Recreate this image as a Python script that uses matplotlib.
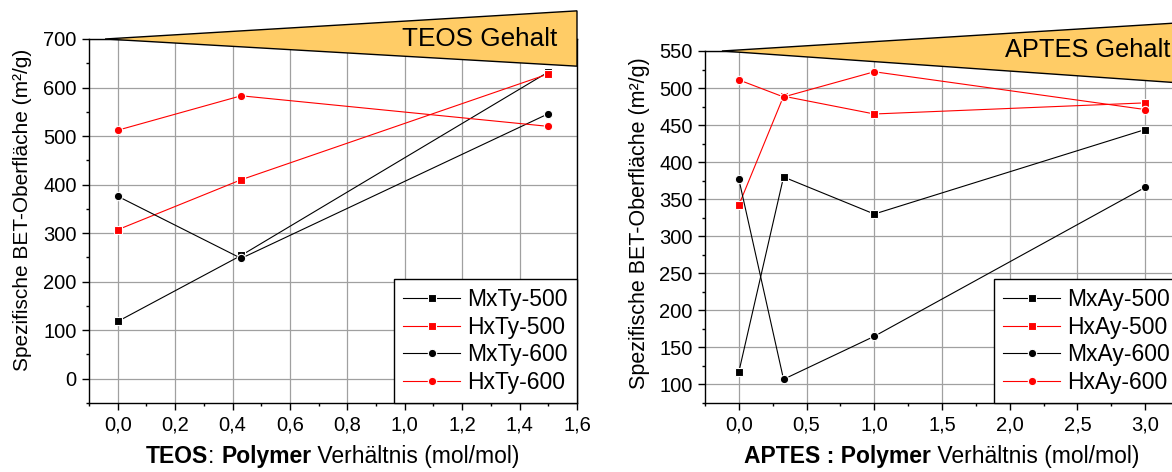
import matplotlib
matplotlib.use("Agg")
import matplotlib.pyplot as plt
from matplotlib.ticker import MultipleLocator, FuncFormatter
from matplotlib.patches import Polygon

plt.rcParams['font.family'] = ['Liberation Sans', 'DejaVu Sans']

# TEOS series
teos_x = [0.0, 0.43, 1.5]
mxty_500 = [118, 254, 632]
hxty_500 = [307, 410, 628]
mxty_600 = [376, 248, 546]
hxty_600 = [512, 583, 520]

# APTES series
aptes_x = [0.0, 0.33, 1.0, 3.0]
mxay_500 = [117, 380, 330, 444]
hxay_500 = [342, 489, 465, 480]
mxay_600 = [377, 107, 165, 366]
hxay_600 = [511, 488, 522, 471]

W, H = 1172, 472
fig = plt.figure(figsize=(W / 100, H / 100), dpi=100)


def px_axes(left, top, right, bottom):
    return fig.add_axes([left / W, 1 - bottom / H, (right - left) / W, (bottom - top) / H])


def comma(v, pos):
    return f"{v:.1f}".replace('.', ',')


def style(ax, xmaj, xmin, ymaj, ymin):
    ax.xaxis.set_major_locator(MultipleLocator(xmaj))
    ax.xaxis.set_minor_locator(MultipleLocator(xmin))
    ax.yaxis.set_major_locator(MultipleLocator(ymaj))
    ax.yaxis.set_minor_locator(MultipleLocator(ymin))
    ax.xaxis.set_major_formatter(FuncFormatter(comma))
    ax.grid(True, which='major', color='#a0a0a0', linewidth=0.9)
    ax.set_axisbelow(True)
    ax.tick_params(which='major', direction='out', length=5, width=1, labelsize=14.5, pad=4,
                   top=False, right=False)
    ax.tick_params(which='minor', direction='out', length=2.5, width=1, top=False, right=False)
    for s in ax.spines.values():
        s.set_linewidth(1.0)


def series(ax, x, ys, labels):
    styles = [('k', 's', 5.5), ('r', 's', 5.5), ('k', 'o', 6), ('r', 'o', 6)]
    for y, lab, (c, m, ms) in zip(ys, labels, styles):
        ax.plot(x, y, color=c, marker=m, ms=ms, lw=0.8, mec='white', mew=0.8,
                mfc=c, label=lab, zorder=3)


def wedge(ax, tip_x, y0, x1, ytop, ybot):
    # orange "content" wedge growing towards the right
    ax.add_patch(Polygon([[tip_x, y0], [x1, ytop], [x1, ybot]], closed=True,
                         facecolor='#ffcc66', edgecolor='black', lw=1.0,
                         clip_on=False, zorder=5))


def legend(ax):
    lg = ax.legend(loc='lower right', bbox_to_anchor=(1, 0), borderaxespad=0,
                   fontsize=16.5, frameon=True, fancybox=False, edgecolor='black',
                   framealpha=1, handlelength=2.5, handletextpad=0.3,
                   labelspacing=0.2, borderpad=0.4)
    lg.get_frame().set_linewidth(1.0)
    lg.set_zorder(6)


def mixed_label(xc, yb, parts, fs=16.5):
    # axis title made of bold and regular pieces, centred at pixel xc
    r = fig.canvas.get_renderer()
    texts = [fig.text(0, 1 - yb / H, s, fontsize=fs, fontweight=w, va='baseline')
             for s, w in parts]
    widths = [t.get_window_extent(r).width for t in texts]
    x = xc - sum(widths) / 2
    for t, w in zip(texts, widths):
        t.set_x(x / W)
        x += w


# left panel: TEOS
ax1 = px_axes(89, 39, 577, 403)
series(ax1, teos_x, [mxty_500, hxty_500, mxty_600, hxty_600],
       ['MxTy-500', 'HxTy-500', 'MxTy-600', 'HxTy-600'])
ax1.set_xlim(-0.1, 1.6)
ax1.set_ylim(-50, 700)
style(ax1, 0.2, 0.1, 100, 50)
wedge(ax1, -0.044, 700, 1.6, 758, 644)
ax1.text(1.531, 686, 'TEOS Gehalt', ha='right', va='baseline', fontsize=18.8, zorder=7)
legend(ax1)
ax1.set_ylabel('Spezifische BET-Oberfläche (m²/g)', fontsize=15)
ax1.yaxis.set_label_coords(-0.117, 0.53)
mixed_label(333, 463, [('TEOS', 'bold'), (': ', 'normal'), ('Polymer', 'bold'),
                       (' Verhältnis (mol/mol)', 'normal')])

# right panel: APTES
ax2 = px_axes(705, 51, 1179, 403)
series(ax2, aptes_x, [mxay_500, hxay_500, mxay_600, hxay_600],
       ['MxAy-500', 'HxAy-500', 'MxAy-600', 'HxAy-600'])
ax2.set_xlim(-0.25, 3.25)
ax2.set_ylim(75, 550)
style(ax2, 0.5, 0.25, 50, 25)
wedge(ax2, -0.125, 550, 3.25, 588, 507)
ax2.text(3.185, 542, 'APTES Gehalt', ha='right', va='baseline', fontsize=18.3, zorder=7)
legend(ax2)
ax2.set_ylabel('Spezifische BET-Oberfläche (m²/g)', fontsize=15.5)
ax2.yaxis.set_label_coords(-0.116, 0.51)
mixed_label(942, 463, [('APTES : Polymer', 'bold'), (' Verhältnis (mol/mol)', 'normal')])

fig.savefig('out.png', dpi=100)
